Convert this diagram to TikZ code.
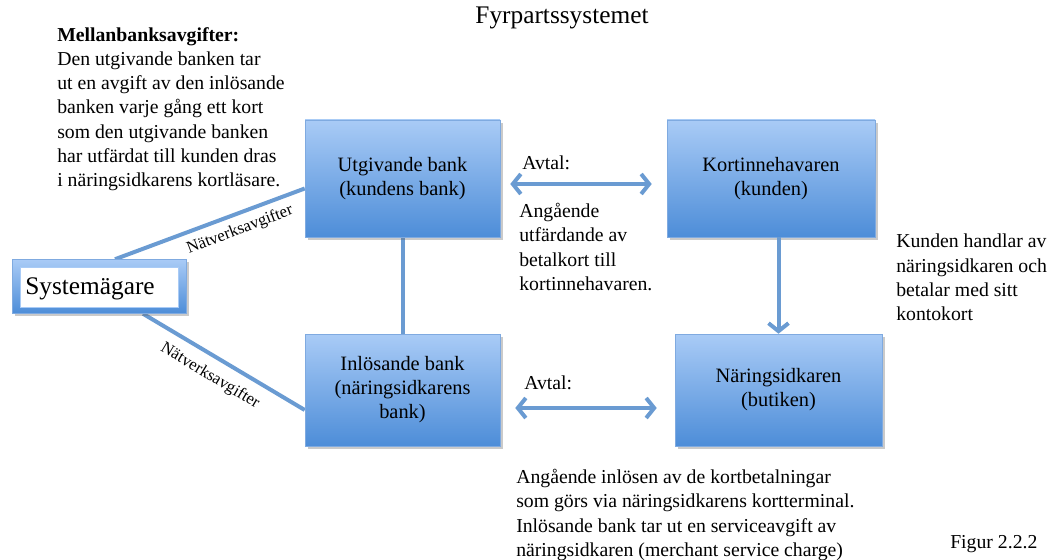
\documentclass[tikz,border=0pt]{standalone}
\usepackage{fontspec}
\setmainfont{Liberation Serif}
\usetikzlibrary{arrows.meta,shadows,calc,backgrounds}
\definecolor{linec}{HTML}{6A9BD2}
\definecolor{boxtop}{HTML}{A9CBF6}
\definecolor{boxbot}{HTML}{4D8DD8}
\definecolor{boxedge}{HTML}{7FAAE0}
\tikzset{
  bankbox/.style={rectangle, draw=boxedge, line width=0.4pt, top color=boxtop, bottom color=boxbot,
    drop shadow={shadow xshift=2pt, shadow yshift=-2pt, opacity=0.35, fill=black!60},
    align=center, font=\fontsize{15.3}{18}\selectfont, inner sep=0pt},
  conn/.style={draw=linec, line width=3pt},
  dblarrow/.style={draw=linec, line width=3pt, {Straight Barb[length=6pt,width=15pt,line width=3pt]}-{Straight Barb[length=6pt,width=15pt,line width=3pt]}},
  onearrow/.style={draw=linec, line width=3pt, -{Straight Barb[length=6pt,width=15pt,line width=3pt]}},
  txt/.style={align=left, anchor=north west, inner sep=0pt, font=\fontsize{14.8}{18.2}\selectfont},
  feelabel/.style={inner sep=0pt, font=\fontsize{12.5}{14}\selectfont}
}
\begin{document}
\begin{tikzpicture}[x=0.75pt,y=-0.75pt]
\useasboundingbox (0,0) rectangle (1054,560);

% title
\node[font=\fontsize{19}{22}\selectfont, inner sep=0pt] (title) at (562,18) {Fyrpartssystemet};

% boxes
\node[bankbox, minimum width=146.25pt, minimum height=87.75pt] (utg) at (402.5,178.5) {Utgivande bank\\(kundens bank)};
\node[bankbox, minimum width=156pt, minimum height=87.75pt] (kort) at (771,178.5) {Kortinnehavaren\\(kunden)};
\node[bankbox, minimum width=146.25pt, minimum height=84pt] (inl) at (402.5,390) {Inlösande bank\\(näringsidkarens\\bank)};
\node[bankbox, minimum width=155.25pt, minimum height=84pt] (nar) at (778.5,390) {Näringsidkaren\\(butiken)};

% Systemägare
\node[rectangle, draw=boxedge, line width=0.4pt, top color=boxtop, bottom color=boxbot,
  drop shadow={shadow xshift=2pt, shadow yshift=-2pt, opacity=0.35, fill=black!60},
  minimum width=130.5pt, minimum height=40.5pt, inner sep=0pt] (sys) at (99,286.5) {};
\node[rectangle, fill=white, draw=boxtop, line width=0.6pt, minimum width=118.5pt, minimum height=30pt,
  inner sep=0pt] (sysin) at (99,287) {};
\node[anchor=west, inner sep=0pt, font=\fontsize{19}{22}\selectfont] (systxt) at (25,289) {Systemägare};

% connectors
\begin{scope}[on background layer]
\draw[conn] ($(sys.north)+(16,0)$) -- ($(utg.west)+(0,10)$);
\draw[conn] ($(sys.south)+(44,0)$) -- ($(inl.west)+(0,20)$);
\draw[conn] (utg.south) -- (inl.north);
\end{scope}
\draw[dblarrow] ($(utg.east)+(10,5.5)$) -- ($(kort.west)+(-15,5.5)$);
\draw[dblarrow] ($(inl.east)+(15,18)$) -- ($(nar.west)+(-18,18)$);
\draw[onearrow] (kort.south -| nar.north) -- (nar.north);

% fee labels
\node[feelabel, rotate=21] (fee1) at (240,230) {Nätverksavgifter};
\node[feelabel, rotate=-31] (fee2) at (210,376) {Nätverksavgifter};

% texts
\node[txt] (mellan) at (57,27) {\textbf{Mellanbanksavgifter:}\\Den utgivande banken tar\\ut en avgift av den inlösande\\banken varje gång ett kort\\som den utgivande banken\\har utfärdat till kunden dras\\i näringsidkarens kortläsare.};
\node[txt] (avtal1) at (522,156) {Avtal:};
\node[txt] (ang1) at (519,203) {Angående\\utfärdande av\\betalkort till\\kortinnehavaren.};
\node[txt] (avtal2) at (524,376) {Avtal:};
\node[txt] (kunden) at (896,234) {Kunden handlar av\\näringsidkaren och\\betalar med sitt\\kontokort};
\node[txt] (ang2) at (516,469) {Angående inlösen av de kortbetalningar\\som görs via näringsidkarens kortterminal.\\Inlösande bank tar ut en serviceavgift av\\näringsidkaren (merchant service charge)};
\node[txt] (fig) at (950,535) {Figur 2.2.2};
\end{tikzpicture}
\end{document}
